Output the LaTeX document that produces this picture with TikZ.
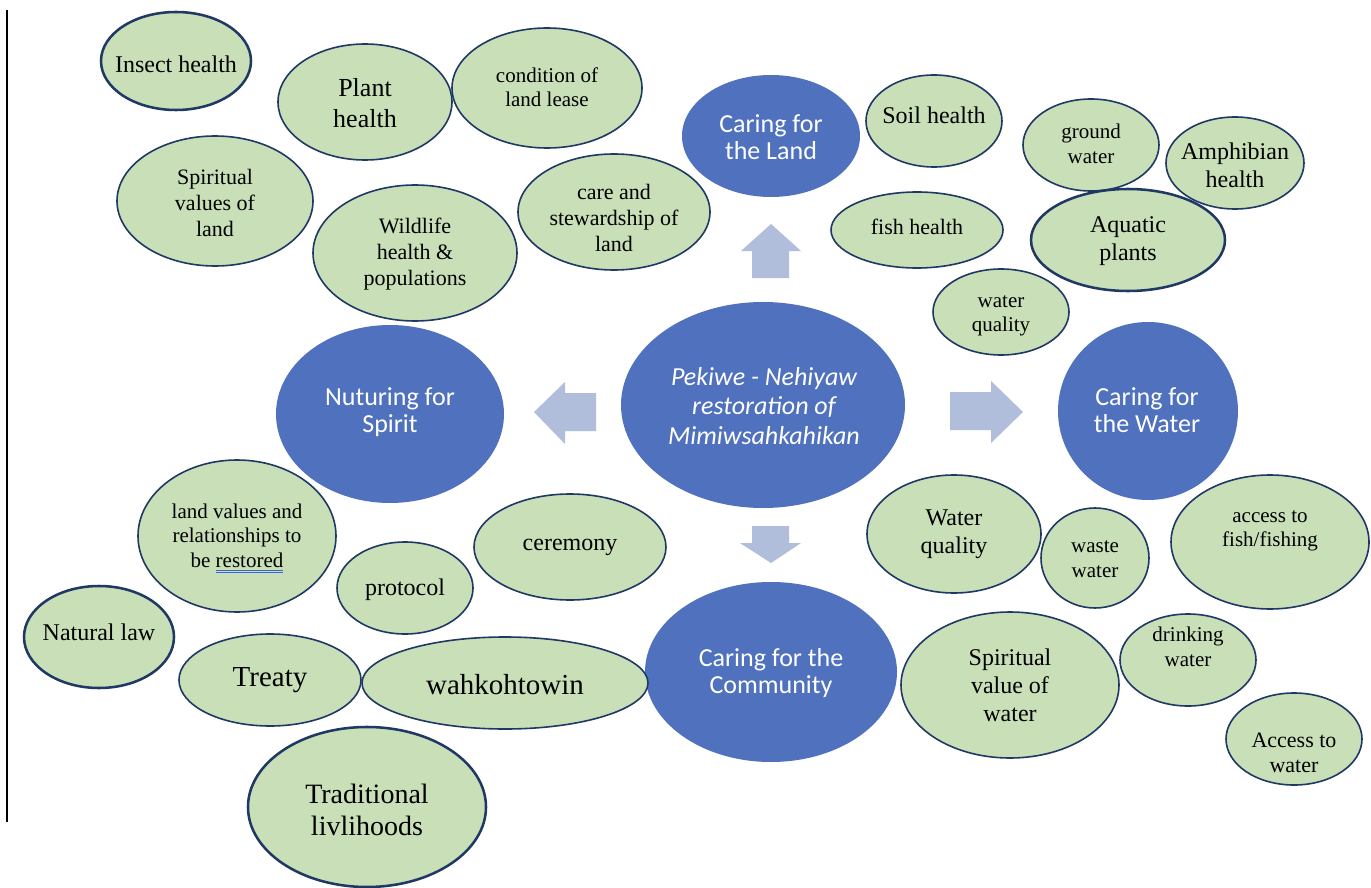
\documentclass[tikz,border=0pt]{standalone}
\usepackage{fontspec}
\setmainfont{Liberation Serif}
\newfontfamily\calfont{Carlito}
\usetikzlibrary{shapes.geometric}
\definecolor{gfill}{HTML}{C8DFB8}
\definecolor{navy}{HTML}{1F3864}
\definecolor{bfill}{HTML}{4F71BE}
\definecolor{arr}{HTML}{B0BDDB}
\definecolor{ulblue}{HTML}{3A66D8}
\newcommand\gf[1]{\fontsize{\the\dimexpr #1pt*3/4\relax}{\the\dimexpr #1pt*7/8\relax}\selectfont}
\newcommand\dul[1]{\setbox0=\hbox{#1}\rlap{\color{ulblue}\rule[-2.6pt]{\wd0}{0.6pt}}\rlap{\color{ulblue}\rule[-3.9pt]{\wd0}{0.6pt}}\box0}
% name, style, x, y, rx, ry, font px, text dy, text
\newcommand\bub[9]{%
  \node[#2, minimum width=#5*1.5pt, minimum height=#6*1.5pt] (#1) at (#3,#4) {};
  \node[txt, font=\gf{#7}] (#1-t) at (#3,{#4+#8}) {#9};}
\begin{document}
\begin{tikzpicture}[x=0.75pt,y=-0.75pt,
  gbub/.style={ellipse, draw=navy, fill=gfill, line width=1.2pt, inner sep=0pt},
  gthick/.style={gbub, line width=1.9pt},
  bbub/.style={ellipse, fill=bfill, draw=none, inner sep=0pt},
  txt/.style={align=center, inner sep=0pt, text=black},
  btxt/.style={align=center, inner sep=0pt, text=white, font=\calfont\fontsize{19.5pt}{20.5pt}\selectfont},
  blockarrow/.style={fill=arr, draw=none}]
\useasboundingbox (0,0) rectangle (1371,888);
\fill[white] (0,0) rectangle (1371,888);

% left margin line
\coordinate (lt) at (7,10);
\coordinate (lb) at (7,822);
\draw[line width=1.4pt] (lt) -- (lb);

% blue circles
\node[bbub, minimum width=284*0.75pt, minimum height=206*0.75pt] (centre) at (763,405) {};
\node[btxt, font=\calfont\itshape\fontsize{19.5pt}{22pt}\selectfont] (centre-t) at (764,406) {Pekiwe - Nehiyaw\\restoration of\\Mimiwsahkahikan};
\node[bbub, minimum width=178*0.75pt, minimum height=122*0.75pt] (land) at (771,136) {};
\node[btxt] (land-t) at (771,137) {Caring for\\the Land};
\node[bbub, minimum width=228*0.75pt, minimum height=178*0.75pt] (spirit) at (390,414) {};
\node[btxt] (spirit-t) at (390,412) {Nuturing for\\Spirit};
\node[bbub, minimum width=180*0.75pt, minimum height=178*0.75pt] (water) at (1148,411) {};
\node[btxt] (water-t) at (1147,410) {Caring for\\the Water};
\node[bbub, minimum width=252*0.75pt, minimum height=180*0.75pt] (community) at (771,672) {};
\node[btxt] (community-t) at (771,673) {Caring for the\\Community};

% block arrows
\fill[blockarrow] (741,251) -- (771,224) -- (801,251) -- (789,251) -- (789,278) -- (752,278) -- (752,251) -- cycle;
\fill[blockarrow] (752,526) -- (789,526) -- (789,543) -- (801,543) -- (771,563) -- (740,543) -- (752,543) -- cycle;
\fill[blockarrow] (534,412) -- (565,382) -- (565,393) -- (596,393) -- (596,431) -- (565,431) -- (565,444) -- cycle;
\fill[blockarrow] (950,392) -- (991,392) -- (991,381) -- (1023,412) -- (991,443) -- (991,430) -- (950,430) -- cycle;

% green bubbles
\bub{insect}{gthick}{176}{61}{75}{49}{24}{3}{Insect health}
\bub{plant}{gbub}{365}{102}{87}{58}{26}{1}{Plant\\health}
\bub{lease}{gbub}{547}{88}{95}{60}{21}{-1}{condition of\\land lease}
\bub{spirval}{gbub}{215}{201}{98}{65}{22}{2}{Spiritual\\values of\\land}
\bub{wild}{gbub}{415}{253}{102}{68}{22}{1}{Wildlife\\health \&\\populations}
\bub{care}{gbub}{614}{212}{96}{58}{22}{6}{care and\\stewardship of\\land}
\bub{soil}{gbub}{934}{121}{68}{46}{24}{-6}{Soil health}
\bub{fish}{gbub}{917}{230}{86}{38}{22}{-3}{fish health}
\bub{wq}{gbub}{1001}{312}{68}{43}{21}{4}{water\\quality}
\bub{ground}{gbub}{1091}{145}{68}{46}{21}{-1}{ground\\water}
\bub{amph}{gbub}{1235}{163}{69}{46}{24}{2}{Amphibian\\health}
\bub{aquatic}{gthick}{1128}{240}{97}{51}{24}{1}{Aquatic\\plants}
\bub{landval}{gbub}{237}{536}{99}{76}{21}{2}{land values and\\relationships to\\be \dul{restored}}
\bub{natural}{gthick}{99}{637}{75}{51}{24}{-5}{Natural law}
\bub{protocol}{gbub}{405}{588}{68}{46}{24}{2}{protocol}
\bub{ceremony}{gbub}{570}{547}{96}{53}{24}{0}{ceremony}
\bub{treaty}{gbub}{270}{680}{91}{46}{29}{0}{Treaty}
\bub{wahk}{gbub}{505}{683}{143}{46}{29}{2}{wahkohtowin}
\bub{trad}{gthick}{367}{807}{119}{80}{28}{3}{Traditional\\livlihoods}
\bub{wqb}{gbub}{954}{534}{87}{59}{24}{0}{Water\\quality}
\bub{waste}{gbub}{1095}{558}{54}{50}{21}{1}{waste\\water}
\bub{fishing}{gbub}{1270}{542}{99}{67}{21}{-11}{access to\\fish/fishing}
\bub{spwater}{gbub}{1010}{685}{109}{73}{24}{0}{Spiritual\\value of\\water}
\bub{drink}{gbub}{1188}{660}{68}{46}{21}{-13}{drinking\\water}
\bub{accw}{gbub}{1294}{739}{68}{46}{22}{14}{Access to\\water}
\end{tikzpicture}
\end{document}
